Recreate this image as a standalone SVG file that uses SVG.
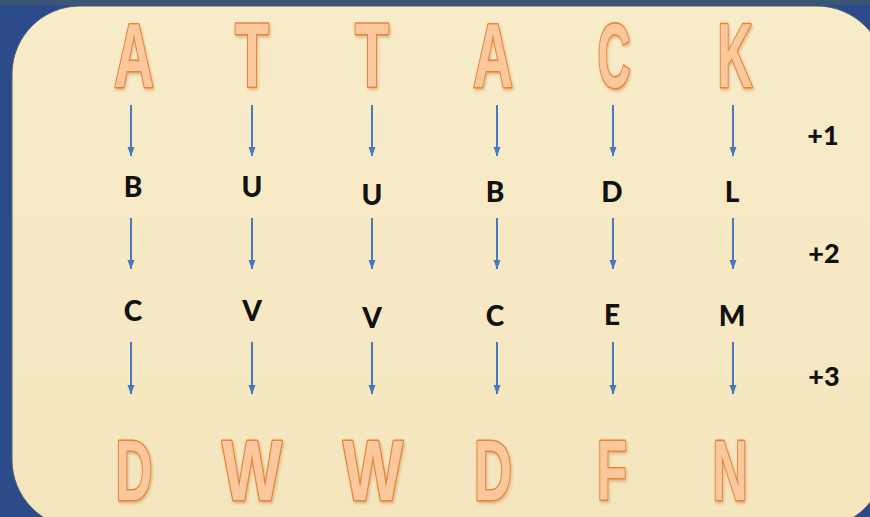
<svg xmlns="http://www.w3.org/2000/svg" width="870" height="517" viewBox="0 0 870 517">
<defs>
<linearGradient id="panelGrad" x1="0" y1="0" x2="0" y2="1">
<stop offset="0" stop-color="#f8ecc9"/>
<stop offset="1" stop-color="#f4e5bd"/>
</linearGradient>
<filter id="shadow" x="-20%" y="-20%" width="140%" height="140%">
<feDropShadow dx="1" dy="2" stdDeviation="1.5" flood-color="#b7783c" flood-opacity="0.45"/>
</filter>
<marker id="ah" markerWidth="8" markerHeight="10" refX="4" refY="9" orient="0" markerUnits="userSpaceOnUse">
<path d="M0.5,0 L7.5,0 L4,9.5 Z" fill="#4a77c0"/>
</marker>
</defs>
<style>
.big{font-family:"Liberation Sans",Arial,sans-serif;font-weight:bold;fill:#fbc89d;stroke:#e5863a;stroke-width:3.2;stroke-linejoin:round;paint-order:stroke;text-anchor:middle;filter:url(#shadow)}
.top{font-size:90px}
.bot{font-size:86px}
.mid{font-family:Lato,"Liberation Sans",sans-serif;font-weight:900;font-size:28px;fill:#111;text-anchor:middle}
.lbl{font-family:Lato,"Liberation Sans",sans-serif;font-weight:900;font-size:27px;fill:#111;text-anchor:middle}
.conn line{stroke:#4a77c0;stroke-width:2;marker-end:url(#ah)}
</style>
<rect x="0" y="0" width="870" height="517" fill="#2b4b8b"/>
<rect x="0" y="0" width="870" height="5" fill="#3b5675"/>
<rect x="12" y="6" width="873" height="522" rx="68" ry="68" fill="url(#panelGrad)" stroke="#50606c" stroke-width="1"/>

<g id="top-A"><text class="big top" x="134" y="87" textLength="40" lengthAdjust="spacingAndGlyphs">A</text></g>
<g id="top-T1"><text class="big top" x="252" y="87" textLength="34" lengthAdjust="spacingAndGlyphs">T</text></g>
<g id="top-T2"><text class="big top" x="372" y="87" textLength="34" lengthAdjust="spacingAndGlyphs">T</text></g>
<g id="top-A2"><text class="big top" x="493" y="87" textLength="40" lengthAdjust="spacingAndGlyphs">A</text></g>
<g id="top-C"><text class="big top" x="614" y="87" textLength="33" lengthAdjust="spacingAndGlyphs">C</text></g>
<g id="top-K"><text class="big top" x="735" y="87" textLength="35" lengthAdjust="spacingAndGlyphs">K</text></g>

<g id="mid1-B"><text class="mid" x="133" y="197">B</text></g>
<g id="mid1-U"><text class="mid" x="252" y="197">U</text></g>
<g id="mid1-U2"><text class="mid" x="372" y="205">U</text></g>
<g id="mid1-B2"><text class="mid" x="495" y="202">B</text></g>
<g id="mid1-D"><text class="mid" x="612" y="202">D</text></g>
<g id="mid1-L"><text class="mid" x="732" y="202">L</text></g>

<g id="mid2-C"><text class="mid" x="133" y="321">C</text></g>
<g id="mid2-V"><text class="mid" x="252" y="321">V</text></g>
<g id="mid2-V2"><text class="mid" x="372" y="328">V</text></g>
<g id="mid2-C2"><text class="mid" x="495" y="326">C</text></g>
<g id="mid2-E"><text class="mid" x="612" y="325">E</text></g>
<g id="mid2-M"><text class="mid" x="732" y="326">M</text></g>

<g id="bot-D"><text class="big bot" x="134" y="500" textLength="37" lengthAdjust="spacingAndGlyphs">D</text></g>
<g id="bot-W1"><text class="big bot" x="252" y="500" textLength="60" lengthAdjust="spacingAndGlyphs">W</text></g>
<g id="bot-W2"><text class="big bot" x="373" y="500" textLength="60" lengthAdjust="spacingAndGlyphs">W</text></g>
<g id="bot-D2"><text class="big bot" x="493" y="500" textLength="38" lengthAdjust="spacingAndGlyphs">D</text></g>
<g id="bot-F"><text class="big bot" x="612" y="500" textLength="30" lengthAdjust="spacingAndGlyphs">F</text></g>
<g id="bot-N"><text class="big bot" x="730" y="500" textLength="35" lengthAdjust="spacingAndGlyphs">N</text></g>

<g id="label-1"><text class="lbl" x="823" y="145">+1</text></g>
<g id="label-2"><text class="lbl" x="824" y="263">+2</text></g>
<g id="label-3"><text class="lbl" x="824" y="386">+3</text></g>

<g id="connectors" class="conn">
<line x1="131" y1="105" x2="131" y2="156"/>
<line x1="131" y1="218" x2="131" y2="269"/>
<line x1="131" y1="342" x2="131" y2="394"/>
<line x1="252" y1="105" x2="252" y2="156"/>
<line x1="252" y1="218" x2="252" y2="269"/>
<line x1="252" y1="342" x2="252" y2="394"/>
<line x1="372" y1="105" x2="372" y2="156"/>
<line x1="372" y1="218" x2="372" y2="269"/>
<line x1="372" y1="342" x2="372" y2="394"/>
<line x1="497" y1="105" x2="497" y2="156"/>
<line x1="497" y1="218" x2="497" y2="269"/>
<line x1="497" y1="342" x2="497" y2="394"/>
<line x1="613" y1="105" x2="613" y2="156"/>
<line x1="613" y1="218" x2="613" y2="269"/>
<line x1="613" y1="342" x2="613" y2="394"/>
<line x1="733" y1="105" x2="733" y2="156"/>
<line x1="733" y1="218" x2="733" y2="269"/>
<line x1="733" y1="342" x2="733" y2="394"/>
</g>
</svg>
